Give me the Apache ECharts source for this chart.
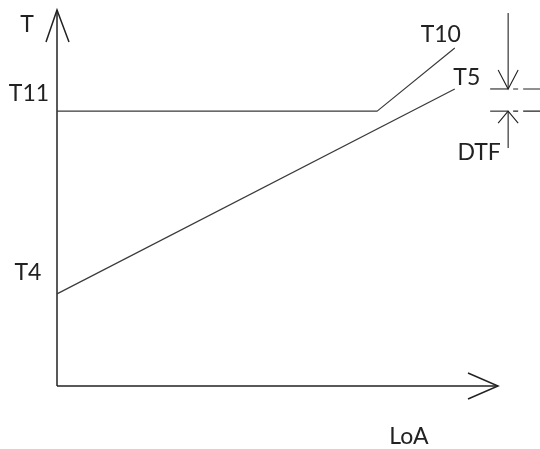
<!DOCTYPE html>
<html>
<head>
<meta charset="utf-8">
<script src="https://cdn.jsdelivr.net/npm/echarts@6/dist/echarts.min.js"></script>
<style>
  html, body { margin: 0; padding: 0; background: #fff; }
  #chart { width: 540px; height: 449px; }
</style>
</head>
<body>
<div id="chart"></div>
<script>
// Schematic: temperature T versus LoA
const axisMaxX = 100;
const axisMaxY = 100;

// Upper curve: flat at T11, then rising to T10
const upperLoA = [0, 72.6, 90.2];
const upperT = [73.1, 73.1, 89.9];

// Lower curve: straight rise from T4 to T5
const lowerLoA = [0, 90.2];
const lowerT = [24.5, 79.0];

// DTF dimension (offset between T5 and T11 levels)
const dtfLoA = 102.3;
const dtfLevels = [79.0, 73.1];
const dtfLeaderEnds = [99.2, 63.3];

const labelT = 'T';
const labelLoA = 'LoA';
const labelT11 = 'T11';
const labelT4 = 'T4';
const labelT10 = 'T10';
const labelT5 = 'T5';
const labelDTF = 'DTF';

const zip = (xs, ys) => xs.map((x, i) => [x, ys[i]]);

const INK = '#222222';
const FONT = 'Lato, "DejaVu Sans", sans-serif';
const FONT_SIZE = 23;

function renderSketch(params, api) {
  const p = (x, y) => api.coord([x, y]);
  const stroke = { stroke: INK, lineWidth: 1.5, fill: null };
  const thin = { stroke: INK, lineWidth: 1.1, fill: null };
  const line = (a, b, style) => ({ type: 'line', shape: { x1: a[0], y1: a[1], x2: b[0], y2: b[1] }, style: style || stroke, silent: true });
  const poly = (pts, style) => ({ type: 'polyline', shape: { points: pts }, style: style || stroke, silent: true });
  const text = (anchor, dx, dy, str) => ({
    type: 'text',
    x: anchor[0] + dx,
    y: anchor[1] + dy,
    style: { text: str, fill: INK, font: FONT_SIZE + 'px ' + FONT, textAlign: 'center', textVerticalAlign: 'middle' },
    silent: true
  });

  const origin = p(0, 0);
  const yTip = p(0, axisMaxY);
  const xTip = p(axisMaxX, 0);
  const hi = p(dtfLoA, dtfLevels[0]);
  const lo = p(dtfLoA, dtfLevels[1]);
  const dimTop = p(dtfLoA, dtfLeaderEnds[0]);
  const dimBottom = p(dtfLoA, dtfLeaderEnds[1]);

  // dash-dot extension lines
  const dashed = { stroke: INK, lineWidth: 1.1, fill: null, lineDash: [5, 5, 20, 5] };

  const children = [
    // axes with open arrowheads
    line(origin, yTip),
    poly([[yTip[0] - 11, yTip[1] + 32], yTip, [yTip[0] + 12, yTip[1] + 32]]),
    line(origin, xTip),
    poly([[xTip[0] - 30, xTip[1] - 13], xTip, [xTip[0] - 30, xTip[1] + 13]]),

    // DTF dimension: arrows pointing at the two levels
    line(dimTop, hi, thin),
    poly([[hi[0] - 10, hi[1] - 19], hi, [hi[0] + 10, hi[1] - 19]], thin),
    line([hi[0] - 18, hi[1]], hi, thin),
    line([hi[0] + 5, hi[1]], [hi[0] + 34, hi[1]], dashed),

    line(dimBottom, lo, thin),
    poly([[lo[0] - 10, lo[1] + 12], lo, [lo[0] + 10, lo[1] + 12]], thin),
    line([lo[0] - 18, lo[1]], lo, thin),
    line([lo[0] + 5, lo[1]], [lo[0] + 34, lo[1]], dashed),

    // labels
    text(yTip, -30, 15, labelT),
    text(p(0, upperT[0]), -28, -18, labelT11),
    text(p(0, lowerT[0]), -29, -21, labelT4),
    text(p(upperLoA[2], upperT[2]), -14, -13, labelT10),
    text(p(lowerLoA[1], lowerT[1]), 12, -11, labelT5),
    text(xTip, -89, 51, labelLoA),
    text(dimBottom, -29, 5, labelDTF)
  ];
  return { type: 'group', children };
}

const chart = echarts.init(document.getElementById('chart'), null, { renderer: 'canvas' });
chart.setOption({
  animation: false,
  backgroundColor: '#ffffff',
  grid: { left: 57, top: 10, width: 441, height: 376 },
  xAxis: { type: 'value', min: 0, max: axisMaxX, show: false },
  yAxis: { type: 'value', min: 0, max: axisMaxY, show: false },
  series: [
    {
      name: 'T11-T10',
      type: 'line',
      data: zip(upperLoA, upperT),
      symbol: 'none',
      lineStyle: { color: '#3a3a3a', width: 1.2 },
      silent: true
    },
    {
      name: 'T4-T5',
      type: 'line',
      data: zip(lowerLoA, lowerT),
      symbol: 'none',
      lineStyle: { color: '#3a3a3a', width: 1.2 },
      silent: true
    },
    {
      name: 'sketch',
      type: 'custom',
      data: [[0, 0]],
      renderItem: renderSketch,
      silent: true,
      z: 3
    }
  ]
});
</script>
</body>
</html>
